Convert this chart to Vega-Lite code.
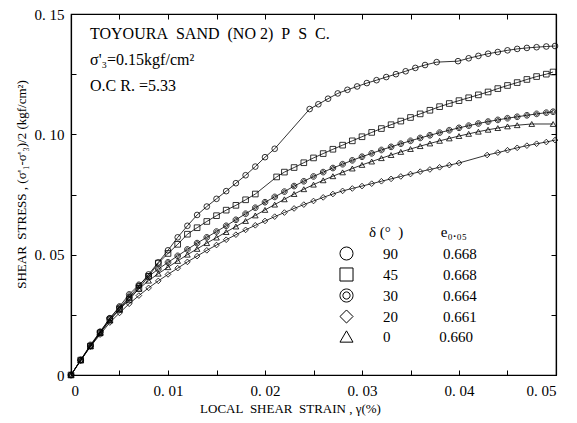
{
"$schema":"https://vega.github.io/schema/vega-lite/v6.json",
"width":485,"height":361,
"autosize":{"type":"none"},
"padding":{"left":71,"top":14,"right":21,"bottom":48},
"background":"white",
"config":{"view":{"stroke":"black","strokeWidth":1.2},"font":"Liberation Serif",
"axis":{"domainColor":"black","tickColor":"black","labelColor":"black","titleColor":"black","grid":false,"labelFont":"Liberation Serif","titleFont":"Liberation Serif","labelFontSize":15,"titleFontSize":13,"titleFontWeight":"normal","tickSize":-5,"domainWidth":1.2,"tickWidth":1}},
"data":{"values":[
{"d":"90","x":0,"y":0},{"d":"90","x":0.001,"y":0.0062},{"d":"90","x":0.002,"y":0.0122},{"d":"90","x":0.003,"y":0.0178},{"d":"90","x":0.004,"y":0.0236},{"d":"90","x":0.005,"y":0.028},{"d":"90","x":0.006,"y":0.0323},{"d":"90","x":0.007,"y":0.037},{"d":"90","x":0.008,"y":0.0418},{"d":"90","x":0.009,"y":0.0468},{"d":"90","x":0.010,"y":0.0518},{"d":"90","x":0.011,"y":0.0572},{"d":"90","x":0.012,"y":0.062},{"d":"90","x":0.013,"y":0.0665},{"d":"90","x":0.014,"y":0.07},{"d":"90","x":0.015,"y":0.0732},{"d":"90","x":0.016,"y":0.0764},{"d":"90","x":0.017,"y":0.0797},{"d":"90","x":0.018,"y":0.083},{"d":"90","x":0.019,"y":0.0866},{"d":"90","x":0.020,"y":0.0905},{"d":"90","x":0.021,"y":0.094},{"d":"90","x":0.0246,"y":0.1105},{"d":"90","x":0.0255,"y":0.1125},{"d":"90","x":0.0265,"y":0.1148},{"d":"90","x":0.0275,"y":0.117},{"d":"90","x":0.0285,"y":0.1185},{"d":"90","x":0.0295,"y":0.1199},{"d":"90","x":0.0305,"y":0.1213},{"d":"90","x":0.0315,"y":0.1225},{"d":"90","x":0.0325,"y":0.1238},{"d":"90","x":0.0335,"y":0.125},{"d":"90","x":0.0345,"y":0.1262},{"d":"90","x":0.0355,"y":0.1276},{"d":"90","x":0.0365,"y":0.1288},{"d":"90","x":0.0377,"y":0.13},{"d":"90","x":0.0399,"y":0.1304},{"d":"90","x":0.041,"y":0.1316},{"d":"90","x":0.042,"y":0.1326},{"d":"90","x":0.043,"y":0.1335},{"d":"90","x":0.044,"y":0.1342},{"d":"90","x":0.045,"y":0.1349},{"d":"90","x":0.046,"y":0.1355},{"d":"90","x":0.047,"y":0.1359},{"d":"90","x":0.048,"y":0.1362},{"d":"90","x":0.049,"y":0.1365},{"d":"90","x":0.0499,"y":0.1367},
{"d":"45","x":0,"y":0},{"d":"45","x":0.001,"y":0.0062},{"d":"45","x":0.002,"y":0.012},{"d":"45","x":0.003,"y":0.0175},{"d":"45","x":0.004,"y":0.023},{"d":"45","x":0.005,"y":0.0272},{"d":"45","x":0.006,"y":0.0312},{"d":"45","x":0.007,"y":0.036},{"d":"45","x":0.008,"y":0.041},{"d":"45","x":0.009,"y":0.0465},{"d":"45","x":0.010,"y":0.0505},{"d":"45","x":0.011,"y":0.0543},{"d":"45","x":0.012,"y":0.0585},{"d":"45","x":0.013,"y":0.0612},{"d":"45","x":0.014,"y":0.0638},{"d":"45","x":0.015,"y":0.0662},{"d":"45","x":0.016,"y":0.0685},{"d":"45","x":0.017,"y":0.0705},{"d":"45","x":0.018,"y":0.0728},{"d":"45","x":0.019,"y":0.0752},{"d":"45","x":0.0212,"y":0.0823},{"d":"45","x":0.022,"y":0.0843},{"d":"45","x":0.023,"y":0.0862},{"d":"45","x":0.024,"y":0.0882},{"d":"45","x":0.025,"y":0.0902},{"d":"45","x":0.026,"y":0.092},{"d":"45","x":0.027,"y":0.0938},{"d":"45","x":0.028,"y":0.0955},{"d":"45","x":0.029,"y":0.0973},{"d":"45","x":0.030,"y":0.099},{"d":"45","x":0.031,"y":0.1008},{"d":"45","x":0.032,"y":0.1024},{"d":"45","x":0.033,"y":0.104},{"d":"45","x":0.034,"y":0.1055},{"d":"45","x":0.035,"y":0.107},{"d":"45","x":0.036,"y":0.1085},{"d":"45","x":0.037,"y":0.11},{"d":"45","x":0.038,"y":0.1115},{"d":"45","x":0.039,"y":0.1128},{"d":"45","x":0.040,"y":0.114},{"d":"45","x":0.041,"y":0.1152},{"d":"45","x":0.042,"y":0.1164},{"d":"45","x":0.043,"y":0.1176},{"d":"45","x":0.044,"y":0.119},{"d":"45","x":0.045,"y":0.1203},{"d":"45","x":0.046,"y":0.1215},{"d":"45","x":0.047,"y":0.1228},{"d":"45","x":0.048,"y":0.124},{"d":"45","x":0.049,"y":0.125},{"d":"45","x":0.0497,"y":0.1259},
{"d":"30","x":0,"y":0},{"d":"30","x":0.001,"y":0.0063},{"d":"30","x":0.002,"y":0.0125},{"d":"30","x":0.003,"y":0.018},{"d":"30","x":0.004,"y":0.0235},{"d":"30","x":0.005,"y":0.0285},{"d":"30","x":0.006,"y":0.0335},{"d":"30","x":0.007,"y":0.0375},{"d":"30","x":0.008,"y":0.041},{"d":"30","x":0.009,"y":0.044},{"d":"30","x":0.010,"y":0.0468},{"d":"30","x":0.011,"y":0.0495},{"d":"30","x":0.012,"y":0.0522},{"d":"30","x":0.013,"y":0.0548},{"d":"30","x":0.014,"y":0.0572},{"d":"30","x":0.015,"y":0.0596},{"d":"30","x":0.016,"y":0.062},{"d":"30","x":0.017,"y":0.0645},{"d":"30","x":0.018,"y":0.067},{"d":"30","x":0.019,"y":0.0695},{"d":"30","x":0.020,"y":0.0718},{"d":"30","x":0.021,"y":0.074},{"d":"30","x":0.022,"y":0.0762},{"d":"30","x":0.023,"y":0.0785},{"d":"30","x":0.024,"y":0.0805},{"d":"30","x":0.025,"y":0.0825},{"d":"30","x":0.026,"y":0.0843},{"d":"30","x":0.027,"y":0.086},{"d":"30","x":0.028,"y":0.0876},{"d":"30","x":0.029,"y":0.0892},{"d":"30","x":0.030,"y":0.0907},{"d":"30","x":0.031,"y":0.0921},{"d":"30","x":0.032,"y":0.0935},{"d":"30","x":0.033,"y":0.0948},{"d":"30","x":0.034,"y":0.0961},{"d":"30","x":0.035,"y":0.0973},{"d":"30","x":0.036,"y":0.0985},{"d":"30","x":0.037,"y":0.0996},{"d":"30","x":0.038,"y":0.1007},{"d":"30","x":0.039,"y":0.1017},{"d":"30","x":0.040,"y":0.1027},{"d":"30","x":0.041,"y":0.1036},{"d":"30","x":0.042,"y":0.1045},{"d":"30","x":0.043,"y":0.1053},{"d":"30","x":0.044,"y":0.106},{"d":"30","x":0.045,"y":0.1067},{"d":"30","x":0.046,"y":0.1073},{"d":"30","x":0.047,"y":0.1079},{"d":"30","x":0.048,"y":0.1085},{"d":"30","x":0.049,"y":0.109},{"d":"30","x":0.0497,"y":0.1094},
{"d":"20","x":0,"y":0},{"d":"20","x":0.001,"y":0.006},{"d":"20","x":0.002,"y":0.0118},{"d":"20","x":0.003,"y":0.0168},{"d":"20","x":0.004,"y":0.0218},{"d":"20","x":0.005,"y":0.0258},{"d":"20","x":0.006,"y":0.0296},{"d":"20","x":0.007,"y":0.033},{"d":"20","x":0.008,"y":0.0362},{"d":"20","x":0.009,"y":0.0391},{"d":"20","x":0.010,"y":0.0418},{"d":"20","x":0.011,"y":0.0444},{"d":"20","x":0.012,"y":0.047},{"d":"20","x":0.013,"y":0.0494},{"d":"20","x":0.014,"y":0.0518},{"d":"20","x":0.015,"y":0.054},{"d":"20","x":0.016,"y":0.0562},{"d":"20","x":0.017,"y":0.0583},{"d":"20","x":0.018,"y":0.0603},{"d":"20","x":0.019,"y":0.0622},{"d":"20","x":0.020,"y":0.064},{"d":"20","x":0.021,"y":0.0658},{"d":"20","x":0.022,"y":0.0675},{"d":"20","x":0.023,"y":0.0692},{"d":"20","x":0.024,"y":0.0708},{"d":"20","x":0.025,"y":0.0723},{"d":"20","x":0.026,"y":0.0738},{"d":"20","x":0.027,"y":0.0752},{"d":"20","x":0.028,"y":0.0765},{"d":"20","x":0.029,"y":0.0775},{"d":"20","x":0.030,"y":0.0785},{"d":"20","x":0.031,"y":0.0795},{"d":"20","x":0.032,"y":0.0805},{"d":"20","x":0.033,"y":0.0815},{"d":"20","x":0.034,"y":0.0825},{"d":"20","x":0.035,"y":0.0835},{"d":"20","x":0.036,"y":0.0845},{"d":"20","x":0.037,"y":0.0854},{"d":"20","x":0.038,"y":0.0863},{"d":"20","x":0.039,"y":0.0872},{"d":"20","x":0.040,"y":0.0881},{"d":"20","x":0.0429,"y":0.0914},{"d":"20","x":0.044,"y":0.0924},{"d":"20","x":0.045,"y":0.0934},{"d":"20","x":0.046,"y":0.0944},{"d":"20","x":0.047,"y":0.0953},{"d":"20","x":0.048,"y":0.0961},{"d":"20","x":0.049,"y":0.0968},{"d":"20","x":0.0499,"y":0.0976},
{"d":"0","x":0,"y":0},{"d":"0","x":0.001,"y":0.0061},{"d":"0","x":0.002,"y":0.012},{"d":"0","x":0.003,"y":0.0174},{"d":"0","x":0.004,"y":0.0226},{"d":"0","x":0.005,"y":0.0274},{"d":"0","x":0.006,"y":0.032},{"d":"0","x":0.007,"y":0.0358},{"d":"0","x":0.008,"y":0.0392},{"d":"0","x":0.009,"y":0.0421},{"d":"0","x":0.010,"y":0.0448},{"d":"0","x":0.011,"y":0.0474},{"d":"0","x":0.012,"y":0.05},{"d":"0","x":0.013,"y":0.0524},{"d":"0","x":0.014,"y":0.0548},{"d":"0","x":0.015,"y":0.0571},{"d":"0","x":0.016,"y":0.0594},{"d":"0","x":0.017,"y":0.0617},{"d":"0","x":0.018,"y":0.064},{"d":"0","x":0.019,"y":0.0663},{"d":"0","x":0.020,"y":0.0686},{"d":"0","x":0.021,"y":0.0708},{"d":"0","x":0.022,"y":0.073},{"d":"0","x":0.023,"y":0.0752},{"d":"0","x":0.024,"y":0.0772},{"d":"0","x":0.025,"y":0.0791},{"d":"0","x":0.026,"y":0.0809},{"d":"0","x":0.027,"y":0.0826},{"d":"0","x":0.028,"y":0.0842},{"d":"0","x":0.029,"y":0.0858},{"d":"0","x":0.030,"y":0.0873},{"d":"0","x":0.031,"y":0.0887},{"d":"0","x":0.032,"y":0.0901},{"d":"0","x":0.033,"y":0.0914},{"d":"0","x":0.034,"y":0.0927},{"d":"0","x":0.035,"y":0.0939},{"d":"0","x":0.036,"y":0.0951},{"d":"0","x":0.037,"y":0.0962},{"d":"0","x":0.038,"y":0.0973},{"d":"0","x":0.039,"y":0.0983},{"d":"0","x":0.040,"y":0.0993},{"d":"0","x":0.041,"y":0.1002},{"d":"0","x":0.042,"y":0.1011},{"d":"0","x":0.043,"y":0.1019},{"d":"0","x":0.044,"y":0.1026},{"d":"0","x":0.045,"y":0.1033},{"d":"0","x":0.046,"y":0.1038},{"d":"0","x":0.0475,"y":0.1043},{"d":"0","x":0.0497,"y":0.1043}
]},
"layer":[
{"mark":{"type":"line","color":"black","strokeWidth":0.8},
 "encoding":{
  "x":{"field":"x","type":"quantitative","scale":{"domain":[0,0.05],"nice":false,"zero":false},"axis":{"orient":"top","labels":false,"title":null,"values":[0,0.005,0.01,0.015,0.02,0.025,0.03,0.035,0.04,0.045,0.05]}},
  "y":{"field":"y","type":"quantitative","scale":{"domain":[0,0.15],"nice":false},"axis":{"orient":"right","labels":false,"title":null,"values":[0,0.025,0.05,0.075,0.1,0.125,0.15]}},
  "detail":{"field":"d"}}},
{"mark":{"type":"point","filled":false,"stroke":"black","strokeWidth":0.8,"size":32,"opacity":1},
 "encoding":{
  "x":{"field":"x","type":"quantitative","axis":{"orient":"bottom","values":[0,0.005,0.01,0.015,0.02,0.025,0.03,0.035,0.04,0.045,0.05],"labelExpr":"datum.value == 0 ? '0' : (round(datum.value*1000) % 10 == 0 ? replace(format(datum.value, '.2f'), '.', '. ') : '')","labelPadding":13,"title":"LOCAL\u00a0\u00a0SHEAR\u00a0\u00a0STRAIN\u00a0,\u00a0γ(%)","titlePadding":4,"titleX":219}},
  "y":{"field":"y","type":"quantitative","axis":{"orient":"left","values":[0,0.025,0.05,0.075,0.1,0.125,0.15],"labelExpr":"datum.value == 0 ? '0' : (round(datum.value*1000) % 50 == 0 ? replace(format(datum.value, '.2f'), '.', '. ') : '')","labelPadding":12,"title":"SHEAR\u00a0\u00a0STRESS\u00a0,\u00a0(σ'₁-σ'₃)/2\u00a0(kgf/cm²)","titlePadding":6,"titleY":170}},
  "shape":{"field":"d","type":"nominal","scale":{"domain":["90","45","30","20","0"],"range":["circle","square","M-1,0A1,1,0,1,0,1,0A1,1,0,1,0,-1,0ZM-0.55,0A0.55,0.55,0,1,0,0.55,0A0.55,0.55,0,1,0,-0.55,0Z","diamond","triangle-up"]},
   "legend":{"orient":"none","legendX":268,"legendY":211,"padding":0,"title":"\u200b\u2007\u2007\u2007\u2007δ\u00a0(°\u00a0\u00a0)\u2007\u2007\u2007\u2007\u2007e₀.₀₅","titleFont":"Liberation Serif","titleFontSize":15,"titleFontWeight":"normal","titleColor":"black","titlePadding":6,"labelFont":"Liberation Serif","labelFontSize":15,"labelColor":"black","labelOffset":29,"symbolSize":170,"symbolStrokeColor":"black","symbolFillColor":"transparent","symbolStrokeWidth":1,"rowPadding":2,
    "labelExpr":"{'90':'90\u2007\u2007\u2007\u2007\u2007\u20070.668','45':'45\u2007\u2007\u2007\u2007\u2007\u20070.668','30':'30\u2007\u2007\u2007\u2007\u2007\u20070.664','20':'20\u2007\u2007\u2007\u2007\u2007\u20070.661','0':'\u00a00\u2007\u2007\u2007\u2007\u2007\u2007\u00a00.660'}[datum.label]"}}}},
{"data":{"values":[{}]},
 "mark":{"type":"text","align":"left","baseline":"top","font":"Liberation Serif","fontSize":16,"lineHeight":26,"color":"black",
  "text":["TOYOURA\u00a0\u00a0SAND\u00a0\u00a0(NO\u00a02)\u00a0\u00a0P\u00a0\u00a0S\u00a0\u00a0C.","σ'₃=0.15kgf/cm²","O.C\u00a0R.\u00a0=5.33"]},
 "encoding":{"x":{"datum":0.00196,"type":"quantitative","axis":null},"y":{"datum":0.145,"type":"quantitative","axis":null}}}
],
"resolve":{"axis":{"x":"independent","y":"independent"}}
}
